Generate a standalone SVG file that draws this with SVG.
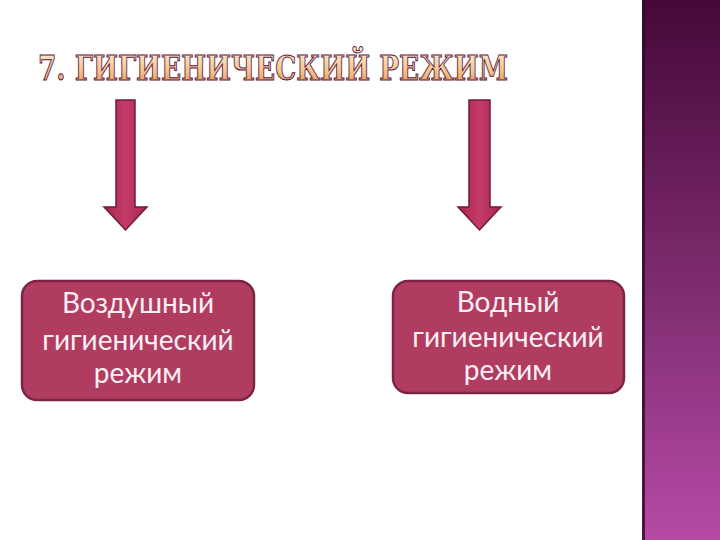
<svg xmlns="http://www.w3.org/2000/svg" width="720" height="540" viewBox="0 0 720 540">
<defs>
<linearGradient id="panel" x1="0" y1="0" x2="0" y2="1">
<stop offset="0" stop-color="#460838"/>
<stop offset="0.5" stop-color="#7a2a6c"/>
<stop offset="1" stop-color="#b64aa6"/>
</linearGradient>
<linearGradient id="titleFill" x1="0" y1="0" x2="0" y2="1">
<stop offset="0" stop-color="#fff6dc"/>
<stop offset="0.6" stop-color="#f2c48a"/>
<stop offset="1" stop-color="#e0903e"/>
</linearGradient>
<linearGradient id="arrowFill" x1="0" y1="0" x2="1" y2="0">
<stop offset="0" stop-color="#a8244f"/>
<stop offset="0.5" stop-color="#c23c66"/>
<stop offset="1" stop-color="#a8244f"/>
</linearGradient>
<style>
.box{fill:#b03c60;stroke:#7c2446;stroke-width:2.5}
.lbl{font-family:Lato,"Open Sans","Noto Sans",sans-serif;font-size:28px;fill:#fbeef4;text-anchor:middle}
.arrow{fill:url(#arrowFill);stroke:#6e1a3c;stroke-width:1.5}
.ttl{font-family:"DejaVu Serif",serif;font-weight:bold;font-size:33px;fill:url(#titleFill);stroke:#5a1444;stroke-width:1}
</style>
</defs>
<rect width="720" height="540" fill="#ffffff"/>
<g id="side-panel">
<rect x="642" y="0" width="78" height="540" fill="url(#panel)"/>
<rect x="642" y="0" width="3" height="540" fill="#2e0a2a" opacity="0.8"/>
</g>
<g id="title">
<text class="ttl" x="38" y="80" textLength="470" lengthAdjust="spacingAndGlyphs">7. ГИГИЕНИЧЕСКИЙ РЕЖИМ</text>
</g>
<g id="connectors">
<path class="arrow" d="M116,100 H135 V207 H147 L125.5,230 L104,207 H116 Z"/>
<path class="arrow" d="M469,100 H490 V207 H501 L479.5,230 L458,207 H469 Z"/>
</g>
<g id="node-air">
<rect class="box" x="22" y="281" width="232" height="119" rx="15"/>
<text class="lbl" x="138" y="313">Воздушный</text>
<text class="lbl" x="138" y="350">гигиенический</text>
<text class="lbl" x="138" y="383">режим</text>
</g>
<g id="node-water">
<rect class="box" x="393" y="281" width="231" height="112" rx="15"/>
<text class="lbl" x="508" y="312">Водный</text>
<text class="lbl" x="508" y="347">гигиенический</text>
<text class="lbl" x="508" y="380">режим</text>
</g>
</svg>
